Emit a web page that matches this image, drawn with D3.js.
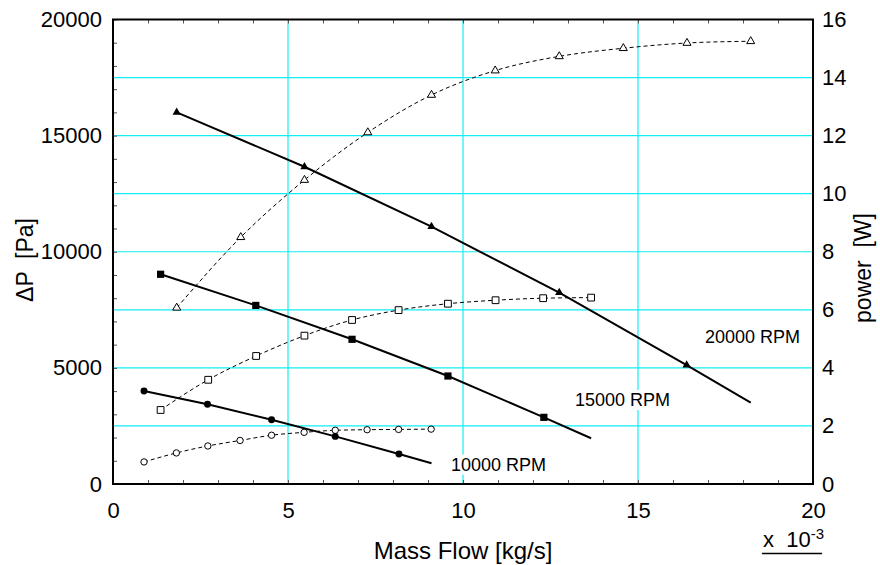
<!DOCTYPE html>
<html>
<head>
<meta charset="utf-8">
<script src="https://cdn.jsdelivr.net/npm/d3@7"></script>
<style>
  html, body { margin: 0; padding: 0; background: #fff; }
  svg { display: block; font-family: "Liberation Sans", Arial, sans-serif; }
</style>
</head>
<body>
<svg id="chart" width="880" height="565"></svg>
<script>
// Mass flow in units of 1e-3 kg/s, pressure rise in Pa, power in W

// power curves (dashed, open markers)
const flow20k = [1.82, 3.65, 5.47, 7.28, 9.10, 10.92, 12.75, 14.58, 16.40, 18.22];
const power20k = [6.07, 8.50, 10.47, 12.11, 13.40, 14.24, 14.73, 15.01, 15.19, 15.25];
const flow15k = [1.36, 2.72, 4.09, 5.47, 6.83, 8.16, 9.57, 10.93, 12.29, 13.66];
const power15k = [2.55, 3.59, 4.41, 5.11, 5.65, 5.99, 6.21, 6.33, 6.40, 6.42];
const flow10k = [0.886, 1.81, 2.71, 3.63, 4.53, 5.46, 6.35, 7.26, 8.16, 9.09];
const power10k = [0.76, 1.07, 1.31, 1.50, 1.68, 1.78, 1.85, 1.87, 1.88, 1.89];

// pressure curves (solid, filled markers); last point is the end of the line, no marker
const dpFlow20k = [1.82, 5.47, 9.10, 12.75, 16.39, 18.22];
const dp20k = [16000, 13660, 11080, 8240, 5120, 3500];
const dpFlow15k = [1.36, 4.08, 6.83, 9.57, 12.31, 13.66];
const dp15k = [9030, 7690, 6230, 4650, 2870, 1970];
const dpFlow10k = [0.886, 2.70, 4.53, 6.35, 8.17, 9.10];
const dp10k = [4000, 3430, 2770, 2050, 1290, 890];

const xTicks = [0, 5, 10, 15, 20];
const yLeftTicks = [0, 5000, 10000, 15000, 20000];
const yRightTicks = [0, 2, 4, 6, 8, 10, 12, 14, 16];
const rpmLabels = ['20000 RPM', '15000 RPM', '10000 RPM'];

const svg = d3.select('#chart');
const L = 113, R = 813, T = 19.5, B = 484;

const x = d3.scaleLinear().domain([0, 20]).range([L, R]);
const yP = d3.scaleLinear().domain([0, 20000]).range([B, T]);
const yW = d3.scaleLinear().domain([0, 16]).range([B, T]);

const gridColor = '#12eef4';
const tickFont = 22;

// grid
svg.append('g').selectAll('line.gx')
  .data([5, 10, 15]).enter().append('line')
  .attr('x1', d => x(d)).attr('x2', d => x(d))
  .attr('y1', T).attr('y2', B)
  .attr('stroke', gridColor).attr('stroke-width', 1.2);
svg.append('g').selectAll('line.gy')
  .data(d3.range(2500, 20000, 2500)).enter().append('line')
  .attr('x1', L).attr('x2', R)
  .attr('y1', d => yP(d)).attr('y2', d => yP(d))
  .attr('stroke', gridColor).attr('stroke-width', 1.2);

// minor inward ticks
function minor(g) {
  g.select('.domain').remove();
  g.selectAll('line').attr('stroke', '#555').attr('stroke-width', 1);
}
svg.append('g').attr('transform', `translate(${L},0)`)
  .call(d3.axisRight(yP).tickValues(d3.range(0, 20001, 1000)).tickSize(4).tickFormat(''))
  .call(minor);
svg.append('g').attr('transform', `translate(0,${T})`)
  .call(d3.axisBottom(x).tickValues(d3.range(0, 21, 1)).tickSize(4).tickFormat(''))
  .call(minor);
svg.append('g').attr('transform', `translate(0,${B})`)
  .call(d3.axisTop(x).tickValues(d3.range(0, 21, 1)).tickSize(4).tickFormat(''))
  .call(minor);

// tick labels
function labels(g) {
  g.select('.domain').remove();
  g.selectAll('line').remove();
  g.selectAll('text').attr('font-size', tickFont).attr('fill', '#000')
    .attr('font-family', '"Liberation Sans", Arial, sans-serif');
}
svg.append('g').attr('transform', `translate(${L},0)`)
  .call(d3.axisLeft(yP).tickValues(yLeftTicks).tickSize(0).tickPadding(11).tickFormat(d3.format('d')))
  .call(labels);
svg.append('g').attr('transform', `translate(${R},0)`)
  .call(d3.axisRight(yW).tickValues(yRightTicks).tickSize(0).tickPadding(9).tickFormat(d3.format('d')))
  .call(labels);
svg.append('g').attr('transform', `translate(0,${B})`)
  .call(d3.axisBottom(x).tickValues(xTicks).tickSize(0).tickPadding(18).tickFormat(d3.format('d')))
  .call(labels);

// frame
svg.append('rect')
  .attr('x', L).attr('y', T).attr('width', R - L).attr('height', B - T)
  .attr('fill', 'none').attr('stroke', '#000').attr('stroke-width', 2);

// curves
const powerLine = d3.line().curve(d3.curveMonotoneX).x(d => x(d[0])).y(d => yW(d[1]));
const dpLine = d3.line().x(d => x(d[0])).y(d => yP(d[1]));

const powerSets = [
  {pts: d3.zip(flow20k, power20k), sym: d3.symbolTriangle, size: 28},
  {pts: d3.zip(flow15k, power15k), sym: d3.symbolSquare, size: 46},
  {pts: d3.zip(flow10k, power10k), sym: d3.symbolCircle, size: 32}
];
const dpSets = [
  {pts: d3.zip(dpFlow20k, dp20k), sym: d3.symbolTriangle, size: 30},
  {pts: d3.zip(dpFlow15k, dp15k), sym: d3.symbolSquare, size: 52},
  {pts: d3.zip(dpFlow10k, dp10k), sym: d3.symbolCircle, size: 38}
];

powerSets.forEach(s => {
  svg.append('path').datum(s.pts)
    .attr('d', powerLine).attr('fill', 'none')
    .attr('stroke', '#000').attr('stroke-width', 1).attr('stroke-dasharray', '4,3');
});
dpSets.forEach(s => {
  svg.append('path').datum(s.pts)
    .attr('d', dpLine).attr('fill', 'none')
    .attr('stroke', '#000').attr('stroke-width', 2);
});

powerSets.forEach(s => {
  svg.append('g').selectAll('path')
    .data(s.pts).enter().append('path')
    .attr('transform', d => `translate(${x(d[0])},${yW(d[1])})`)
    .attr('d', d3.symbol().type(s.sym).size(s.size))
    .attr('fill', '#fff').attr('stroke', '#000').attr('stroke-width', 1);
});
dpSets.forEach(s => {
  svg.append('g').selectAll('path')
    .data(s.pts.slice(0, -1)).enter().append('path')
    .attr('transform', d => `translate(${x(d[0])},${yP(d[1])})`)
    .attr('d', d3.symbol().type(s.sym).size(s.size))
    .attr('fill', '#000');
});

// rpm labels with white backing
const rpmPos = [[705, 342.5], [575, 406], [451, 470.5]];
rpmLabels.forEach((t, i) => {
  const g = svg.append('g');
  const txt = g.append('text')
    .attr('x', rpmPos[i][0]).attr('y', rpmPos[i][1])
    .attr('font-size', 18).attr('fill', '#000').text(t);
  const bb = txt.node().getBBox();
  g.insert('rect', 'text')
    .attr('x', bb.x - 2).attr('y', bb.y).attr('width', bb.width + 4).attr('height', bb.height)
    .attr('fill', '#fff');
});

// axis titles
svg.append('text')
  .attr('transform', `translate(${(L + R) / 2},559)`)
  .attr('text-anchor', 'middle').attr('font-size', 24)
  .text('Mass Flow [kg/s]');
svg.append('text')
  .attr('transform', 'translate(33,260) rotate(-90)')
  .attr('text-anchor', 'middle').attr('font-size', 23)
  .style('white-space', 'pre')
  .text('\u0394P  [Pa]');
svg.append('text')
  .attr('transform', 'translate(871,268) rotate(-90)')
  .attr('text-anchor', 'middle').attr('font-size', 23)
  .style('white-space', 'pre')
  .text('power  [W]');

// exponent note
const ex = svg.append('text').attr('x', 763).attr('y', 547).attr('font-size', 22);
ex.append('tspan').style('white-space', 'pre').text('x  10');
ex.append('tspan').attr('dy', -8).attr('font-size', 15).text('-3');
svg.append('line')
  .attr('x1', 762).attr('x2', 822).attr('y1', 553.5).attr('y2', 553.5)
  .attr('stroke', '#000').attr('stroke-width', 1.3);
</script>
</body>
</html>
